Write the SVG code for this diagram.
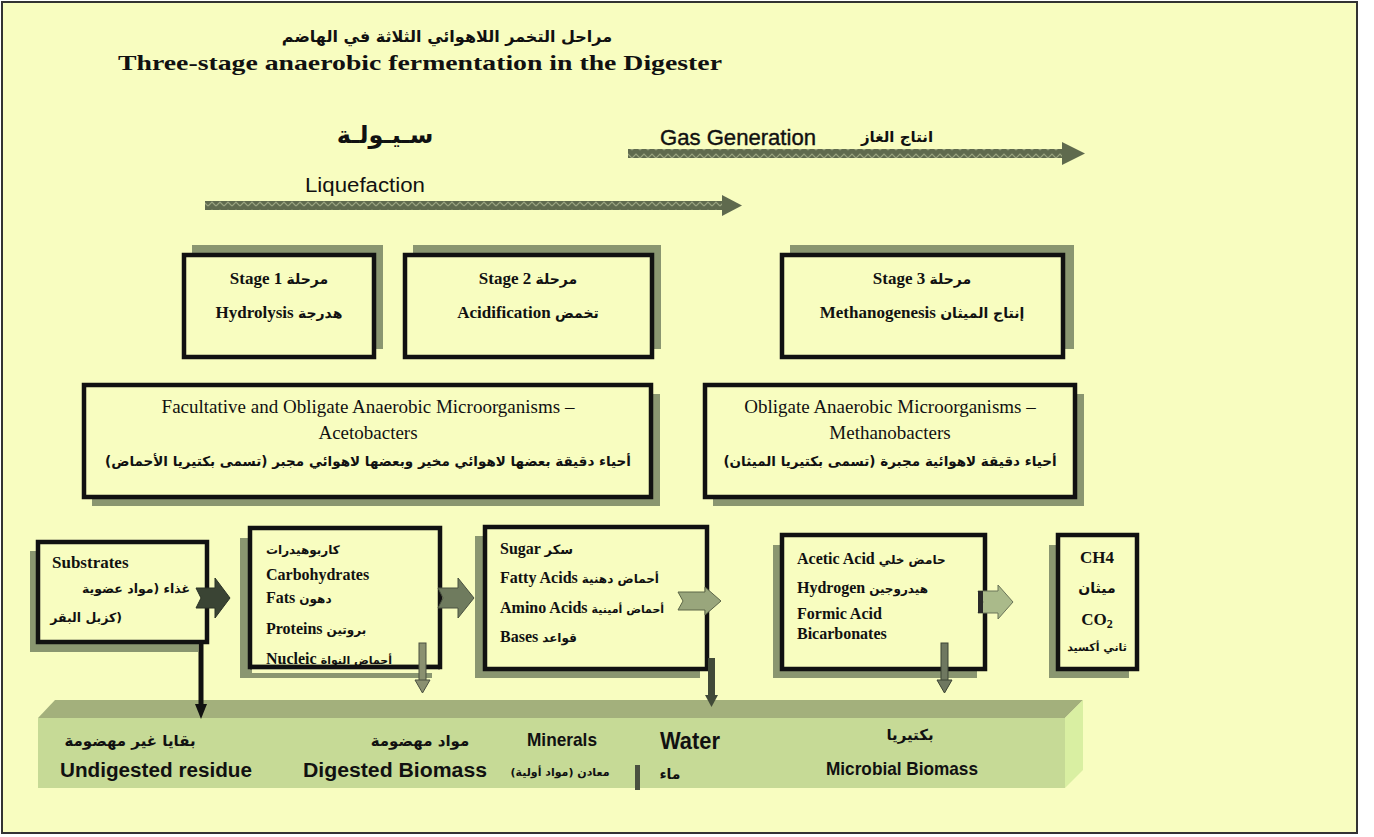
<svg xmlns="http://www.w3.org/2000/svg" width="1374" height="837" viewBox="0 0 1374 837">
<defs>
<pattern id="hatch" width="8" height="8" patternUnits="userSpaceOnUse">
<rect width="8" height="8" fill="#5f6a4e"/>
<path d="M0,6 L4,2 L8,6" stroke="#9aa480" stroke-width="1.2" fill="none"/>
</pattern>
<style>
.box{fill:#f8fdc0;stroke:#111;stroke-width:4.5}
.shadow{fill:#8a9670}
.ser{font-family:"Liberation Serif","DejaVu Sans",serif;fill:#111}
.b{font-weight:bold}
.ar{font-family:"DejaVu Sans",sans-serif;font-weight:bold;fill:#111}
.sans{font-family:"Liberation Sans","DejaVu Sans",sans-serif;fill:#111}
.a14{font-family:"DejaVu Sans",sans-serif;font-size:14px}
.a13{font-family:"DejaVu Sans",sans-serif;font-size:13px}
.a12{font-family:"DejaVu Sans",sans-serif;font-size:12px}
.a11{font-family:"DejaVu Sans",sans-serif;font-size:11px}
</style>
</defs>
<rect x="0" y="0" width="1374" height="837" fill="#ffffff"/>
<rect x="2" y="2" width="1355" height="831" fill="#f8fdc0" stroke="#333" stroke-width="2"/>

<g id="title">
<text class="ar" x="447" y="42" font-size="16" text-anchor="middle">مراحل التخمر اللاهوائي الثلاثة في الهاضم</text>
<text class="ser b" x="420" y="70" font-size="22" text-anchor="middle" textLength="604" lengthAdjust="spacingAndGlyphs">Three-stage anaerobic fermentation in the Digester</text>
</g>

<g id="phase-arrows">
<g id="liquefaction">
<text class="ar" x="385" y="143" font-size="24" text-anchor="middle">سـيـولـة</text>
<text class="sans" x="365" y="192" font-size="20" text-anchor="middle" textLength="120" lengthAdjust="spacingAndGlyphs">Liquefaction</text>
<rect x="205" y="201" width="520" height="9" fill="url(#hatch)"/>
<polygon points="722,195 742,205.5 722,216" fill="#5f6a4e"/>
</g>
<g id="gas-generation">
<text class="sans" x="738" y="145" font-size="22" text-anchor="middle" textLength="156" lengthAdjust="spacingAndGlyphs" stroke="#111" stroke-width="0.4">Gas Generation</text>
<text class="ar" x="897" y="142" font-size="15" text-anchor="middle">انتاج الغاز</text>
<rect x="628" y="149" width="437" height="9" fill="url(#hatch)"/>
<polygon points="1062,142 1085,153.5 1062,165" fill="#5f6a4e"/>
</g>
</g>

<g id="stage1">
<rect class="shadow" x="192" y="245" width="191" height="104"/>
<rect class="box" x="184" y="255" width="190" height="102"/>
<text class="ser b" x="279" y="284" font-size="17" text-anchor="middle">Stage 1 <tspan class="a14">مرحلة</tspan></text>
<text class="ser b" x="279" y="318" font-size="17" text-anchor="middle">Hydrolysis  <tspan class="a14">هدرجة</tspan></text>
</g>
<g id="stage2">
<rect class="shadow" x="413" y="245" width="248" height="104"/>
<rect class="box" x="405" y="255" width="247" height="102"/>
<text class="ser b" x="528" y="284" font-size="17" text-anchor="middle">Stage 2 <tspan class="a14">مرحلة</tspan></text>
<text class="ser b" x="528" y="318" font-size="17" text-anchor="middle">Acidification  <tspan class="a14">تخمض</tspan></text>
</g>
<g id="stage3">
<rect class="shadow" x="790" y="245" width="284" height="104"/>
<rect class="box" x="782" y="255" width="281" height="102"/>
<text class="ser b" x="922" y="284" font-size="17" text-anchor="middle">Stage 3 <tspan class="a14">مرحلة</tspan></text>
<text class="ser b" x="922" y="318" font-size="17" text-anchor="middle">Methanogenesis  <tspan class="a14">إنتاج الميثان</tspan></text>
</g>

<g id="acetobacters">
<rect class="shadow" x="92" y="394" width="568" height="112"/>
<rect class="box" x="84" y="385" width="567" height="112"/>
<text class="ser" x="368" y="413" font-size="19" text-anchor="middle">Facultative and Obligate Anaerobic Microorganisms –</text>
<text class="ser" x="368" y="439" font-size="19" text-anchor="middle">Acetobacters</text>
<text class="ar" x="368" y="466" font-size="13.5" text-anchor="middle">أحياء دقيقة بعضها لاهوائي مخير وبعضها لاهوائي مجبر (تسمى بكتيريا الأحماض)</text>
</g>
<g id="methanobacters">
<rect class="shadow" x="713" y="394" width="371" height="112"/>
<rect class="box" x="705" y="385" width="370" height="112"/>
<text class="ser" x="890" y="413" font-size="19" text-anchor="middle">Obligate Anaerobic Microorganisms –</text>
<text class="ser" x="890" y="439" font-size="19" text-anchor="middle">Methanobacters</text>
<text class="ar" x="890" y="466" font-size="13.5" text-anchor="middle">أحياء دقيقة لاهوائية مجبرة (تسمى بكتيريا الميثان)</text>
</g>

<g id="bar">
<polygon points="38,718 55,700 1083,700 1065,718" fill="#a3b07c"/>
<polygon points="1065,718 1083,700 1083,770 1065,788" fill="#d9efa2"/>
<rect x="38" y="718" width="1027" height="70" fill="#c6da96"/>
<rect x="635" y="765" width="5" height="25" fill="#4a5040"/>
<text class="ar" x="130" y="746" font-size="15" text-anchor="middle">بقايا غير مهضومة</text>
<text class="sans b" x="156" y="777" font-size="20" text-anchor="middle" textLength="192" lengthAdjust="spacingAndGlyphs">Undigested residue</text>
<text class="ar" x="420" y="746" font-size="15" text-anchor="middle">مواد مهضومة</text>
<text class="sans b" x="395" y="777" font-size="20" text-anchor="middle" textLength="184" lengthAdjust="spacingAndGlyphs">Digested Biomass</text>
<text class="sans b" x="562" y="746" font-size="19" text-anchor="middle" textLength="70" lengthAdjust="spacingAndGlyphs">Minerals</text>
<text class="ar" x="560" y="776" font-size="11" text-anchor="middle">معادن (مواد أولية)</text>
<text class="sans b" x="690" y="749" font-size="23" text-anchor="middle" textLength="60" lengthAdjust="spacingAndGlyphs">Water</text>
<text class="ar" x="670" y="779" font-size="14" text-anchor="middle">ماء</text>
<text class="ar" x="910" y="740" font-size="15" text-anchor="middle">بكتيريا</text>
<text class="sans b" x="902" y="775" font-size="19" text-anchor="middle" textLength="152" lengthAdjust="spacingAndGlyphs">Microbial Biomass</text>
</g>

<g id="substrates">
<rect class="shadow" x="30" y="551" width="168" height="101"/>
<rect class="box" x="38" y="542" width="169" height="100"/>
<text class="ser b" x="52" y="568" font-size="17">Substrates</text>
<text class="ar" x="190" y="593" font-size="12.5" text-anchor="end">غذاء (مواد عضوية</text>
<text class="ar" x="122" y="622" font-size="12.5" text-anchor="end">كزبل البقر)</text>
</g>
<g id="components">
<rect class="shadow" x="240" y="538" width="192" height="140"/>
<rect class="box" x="250" y="528" width="190" height="139"/>
<text class="ar" x="266" y="554" font-size="12">كاربوهيدرات</text>
<text class="ser b" x="266" y="580" font-size="16">Carbohydrates</text>
<text class="ser b" x="266" y="603" font-size="16">Fats <tspan class="a12">دهون</tspan></text>
<text class="ser b" x="266" y="634" font-size="16">Proteins <tspan class="a12">بروتين</tspan></text>
<text class="ser b" x="266" y="664" font-size="16">Nucleic  <tspan class="a11">أحماض النواة</tspan></text>
<rect x="252" y="665" width="186" height="8" fill="#f8fdc0"/>
<rect x="250" y="664.8" width="190" height="4.5" fill="#111"/>
</g>
<g id="monomers">
<rect class="shadow" x="475" y="536" width="225" height="142"/>
<rect class="box" x="485" y="527" width="222" height="142"/>
<text class="ser b" x="500" y="554" font-size="16">Sugar <tspan class="a13">سكر</tspan></text>
<text class="ser b" x="500" y="583" font-size="16">Fatty Acids <tspan class="a12">أحماض دهنية</tspan></text>
<text class="ser b" x="500" y="613" font-size="16">Amino Acids <tspan class="a11">أحماض أمينية</tspan></text>
<text class="ser b" x="500" y="642" font-size="16">Bases <tspan class="a12">قواعد</tspan></text>
</g>
<g id="acids">
<rect class="shadow" x="773" y="545" width="204" height="133"/>
<rect class="box" x="782" y="535" width="203" height="134"/>
<text class="ser b" x="797" y="564" font-size="16">Acetic Acid <tspan class="a12">حامض خلي</tspan></text>
<text class="ser b" x="797" y="593" font-size="16">Hydrogen <tspan class="a12">هيدروجين</tspan></text>
<text class="ser b" x="797" y="619" font-size="16">Formic Acid</text>
<text class="ser b" x="797" y="639" font-size="16">Bicarbonates</text>
</g>
<g id="gases">
<rect class="shadow" x="1049" y="545" width="80" height="133"/>
<rect class="box" x="1058" y="535" width="79" height="134"/>
<text class="ser b" x="1097" y="563" font-size="17" text-anchor="middle">CH4</text>
<text class="ar" x="1097" y="593" font-size="14" text-anchor="middle">ميثان</text>
<text class="ser b" x="1097" y="625" font-size="17" text-anchor="middle">CO<tspan font-size="12" dy="3">2</tspan></text>
<text class="ar" x="1097" y="651" font-size="11" text-anchor="middle">ثاني أكسيد</text>
</g>

<g id="connectors">
<polygon points="196,588 215,588 215,578 230,598 215,618 215,608 196,608 201,598" fill="#3a4434" stroke="#2a3226" stroke-width="1"/>
<polygon points="438,588 458,588 458,578 474,598 458,618 458,608 438,608 443,598" fill="#6f7b5e" stroke="#4a5240" stroke-width="1"/>
<polygon points="678,592 705,592 705,587 721,601 705,615 705,610 678,610 683,601" fill="#99a67c" stroke="#5c6648" stroke-width="1"/>
<polygon points="978,591 998,591 998,585 1013,602 998,619 998,613 978,613 983,602" fill="#aaba8a" stroke="#6a7458" stroke-width="1"/>
<rect x="978" y="591" width="5" height="22" fill="#2a2a2a"/>

<line x1="201" y1="642" x2="201" y2="708" stroke="#111" stroke-width="5"/>
<polygon points="195,704 207,704 201,719" fill="#111"/>
<rect x="419" y="643" width="7" height="38" fill="#8a9070" stroke="#4a5040" stroke-width="1"/>
<polygon points="415,680 430,680 422.5,693" fill="#8a9070" stroke="#4a5040" stroke-width="1"/>
<rect x="708" y="658" width="7" height="38" fill="#414a38"/>
<polygon points="705,695 718,695 711.5,707" fill="#414a38"/>
<rect x="941" y="643" width="7" height="38" fill="#6f7860" stroke="#3c4434" stroke-width="1"/>
<polygon points="937,680 952,680 944.5,693" fill="#6f7860" stroke="#3c4434" stroke-width="1"/>
</g>
</svg>
